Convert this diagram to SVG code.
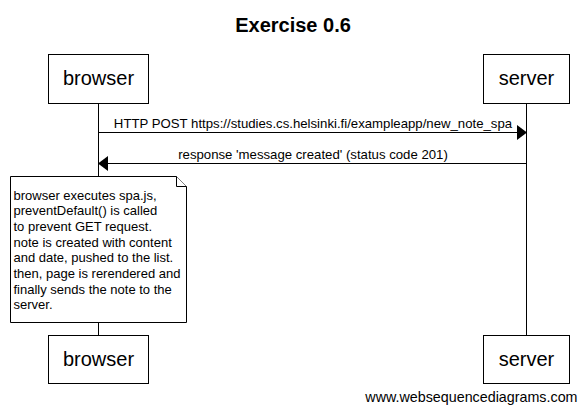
<svg xmlns="http://www.w3.org/2000/svg" width="584" height="418" viewBox="0 0 584 418">
<style>
text{font-family:"Liberation Sans",Arial,sans-serif;fill:#000}
.title{font-size:20px;font-weight:bold;text-anchor:middle}
.actor rect{fill:#fff;stroke:#000;stroke-width:1}
.actor text{font-size:20px;text-anchor:middle}
.life{stroke:#000;stroke-width:1}
.msg line{stroke:#000;stroke-width:1}
.msg polygon{fill:#000}
.msg text{font-size:13.2px;text-anchor:middle}
.note path{fill:#fff;stroke:#000;stroke-width:1}
.note text{font-size:13px}
.wm{font-size:14.3px;text-anchor:end}
</style>
<rect width="584" height="418" fill="#fff"/>
<text class="title" x="293" y="31.5">Exercise 0.6</text>
<g id="lifelines">
<line class="life" x1="98.5" y1="103.5" x2="98.5" y2="335"/>
<line class="life" x1="526.5" y1="103.5" x2="526.5" y2="335"/>
</g>
<g id="browser-top" class="actor">
<rect x="48.5" y="54.5" width="100" height="49"/>
<text x="98.5" y="84.5">browser</text>
</g>
<g id="server-top" class="actor">
<rect x="483.5" y="54.5" width="86" height="49"/>
<text x="526.5" y="84.5">server</text>
</g>
<g id="connectors" class="msg">
<line x1="98.5" y1="132.5" x2="517" y2="132.5"/>
<polygon points="527,132.5 517,125 517,140"/>
<text x="313" y="127.5">HTTP POST https://studies.cs.helsinki.fi/exampleapp/new_note_spa</text>
<line x1="108" y1="163.5" x2="526.5" y2="163.5"/>
<polygon points="98,163.5 108,156 108,171"/>
<text x="313" y="158.5">response 'message created' (status code 201)</text>
</g>
<g id="note" class="note">
<path d="M10.5,176.5 H176.5 L186.5,186.5 V322.5 H10.5 Z"/>
<path d="M176.5,176.5 V186.5 H186.5" fill="none"/>
<text x="13.5" y="199.5">browser executes spa.js,</text>
<text x="13.5" y="215.2">preventDefault() is called</text>
<text x="13.5" y="230.9">to prevent GET request.</text>
<text x="13.5" y="246.6">note is created with content</text>
<text x="13.5" y="262.3">and date, pushed to the list.</text>
<text x="13.5" y="278">then, page is rerendered and</text>
<text x="13.5" y="293.7">finally sends the note to the</text>
<text x="13.5" y="309.4">server.</text>
</g>
<g id="browser-bottom" class="actor">
<rect x="48.5" y="335.5" width="100" height="48"/>
<text x="98.5" y="365.5">browser</text>
</g>
<g id="server-bottom" class="actor">
<rect x="483.5" y="335.5" width="86" height="48"/>
<text x="526.5" y="365.5">server</text>
</g>
<text class="wm" x="577.5" y="401.5">www.websequencediagrams.com</text>
</svg>
